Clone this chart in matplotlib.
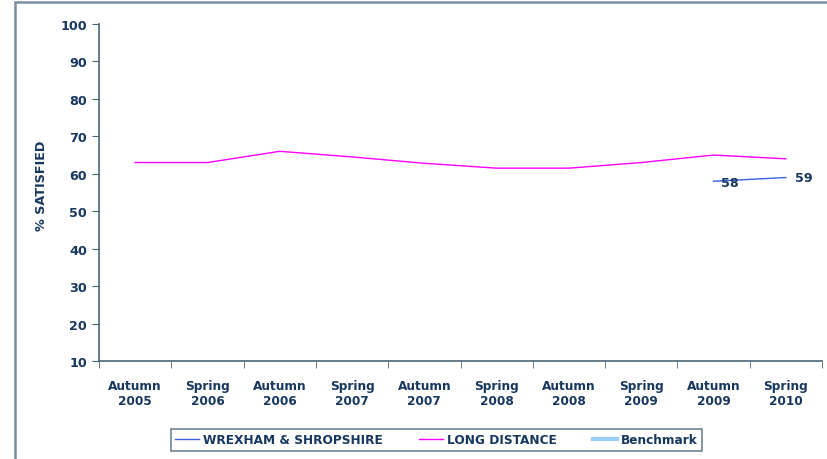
import numpy as np
import matplotlib.pyplot as plt
from matplotlib.patches import Rectangle

periods = ["Autumn\n2005", "Spring\n2006", "Autumn\n2006", "Spring\n2007", "Autumn\n2007",
           "Spring\n2008", "Autumn\n2008", "Spring\n2009", "Autumn\n2009", "Spring\n2010"]
long_distance = [63, 63, 66, 64.5, 62.8, 61.5, 61.5, 63, 65, 64]
wrexham = [None, None, None, None, None, None, None, None, 58, 59]
benchmark = [None] * 10

navy = "#17375E"
axcol = "#4a6478"
fs = 8.7

plt.rcParams['font.family'] = 'DejaVu Sans'
plt.rcParams['font.weight'] = 'bold'

fig = plt.figure(figsize=(8.27, 4.6), dpi=100)
ax = fig.add_axes([99 / 827, 1 - 362 / 460, 723 / 827, 337 / 460])

x = np.arange(len(periods))
wx = np.array([v if v is not None else np.nan for v in wrexham], dtype=float)
bx = np.array([v if v is not None else np.nan for v in benchmark], dtype=float)

l1, = ax.plot(x, wx, color="#3a62e0", lw=1, label="WREXHAM & SHROPSHIRE")
l2, = ax.plot(x, long_distance, color="#ff00ff", lw=1, label="LONG DISTANCE")
l3, = ax.plot(x, bx, color="#99ccff", lw=3, label="Benchmark")

# data labels
ax.text(x[8] + 0.1, wx[8] - 0.3, "58", color=navy, fontsize=fs + 0.5, fontweight='bold', va='center', ha='left')
ax.text(x[9] + 0.12, wx[9], "59", color=navy, fontsize=fs + 0.5, fontweight='bold', va='center', ha='left')

ax.set_xlim(-0.5, len(periods) - 0.5)
ax.set_ylim(10, 100)
ax.set_yticks(range(10, 101, 10))
ax.set_xticks(x)
ax.set_xticklabels(periods, color=navy, fontsize=fs, fontweight='bold')
ax.set_xticks(np.arange(-0.5, len(periods)), minor=True)
ax.tick_params(axis='x', which='major', length=0, pad=13)
ax.tick_params(axis='x', which='minor', length=5, color=axcol, direction='out')
ax.tick_params(axis='y', length=5, color=axcol, labelcolor=navy, labelsize=fs + 0.5, direction='out')
for lab in ax.get_yticklabels():
    lab.set_fontweight('bold')

ax.set_ylabel("% SATISFIED", color=navy, fontsize=fs + 0.5, fontweight='bold', va='center')
ax.yaxis.set_label_coords(-0.079, 0.522)

for s in ['top', 'right']:
    ax.spines[s].set_visible(False)
for s in ['left', 'bottom']:
    ax.spines[s].set_color(axcol)
    ax.spines[s].set_linewidth(1.2)

leg = fig.legend(handles=[l1, l2, l3], loc='center', bbox_to_anchor=(436.5 / 827, 1 - 441 / 460),
                 ncol=3, frameon=True, fancybox=False, fontsize=fs, handlelength=2.0,
                 columnspacing=3.0, borderpad=0.35, handletextpad=0.3, borderaxespad=0)
leg.get_frame().set_edgecolor(axcol)
leg.get_frame().set_linewidth(1.2)
for t in leg.get_texts():
    t.set_color(navy)
    t.set_fontweight('bold')

# outer frame
fig.patches.append(Rectangle((15 / 827, -0.05), 1.1, 1 - 3 / 460 + 0.05, transform=fig.transFigure,
                             fill=False, edgecolor="#7a8e9e", lw=1.8))

fig.savefig("out.png", dpi=100)
